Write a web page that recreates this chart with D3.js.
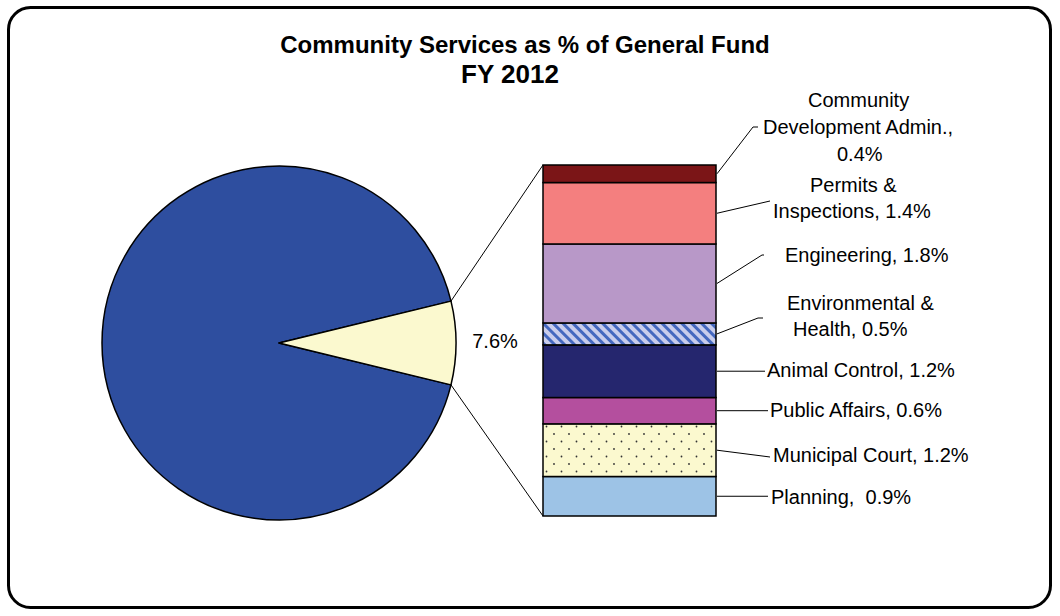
<!DOCTYPE html>
<html>
<head>
<meta charset="utf-8">
<script src="https://cdn.jsdelivr.net/npm/d3@7"></script>
<style>
  html, body { margin: 0; padding: 0; background: #ffffff; }
  svg { display: block; }
  text { font-family: "Liberation Sans", Arial, sans-serif; fill: #000; }
</style>
</head>
<body>
<svg id="chart" width="1060" height="616"></svg>
<script>
// ---- data ----
const titleLines = ["Community Services as % of General Fund", "FY 2012"];

const pieCategories = ["Other General Fund", "Community Services"];
const pieValues = [92.4, 7.6];

// stacked breakdown of the Community Services share, bottom to top
const categories = [
  "Planning", "Municipal Court", "Public Affairs", "Animal Control",
  "Environmental & Health", "Engineering", "Permits & Inspections",
  "Community Development Admin."
];
const values = [0.9, 1.2, 0.6, 1.2, 0.5, 1.8, 1.4, 0.4];

// label text per segment; "{v}" is replaced by the formatted value
const labelLines = [
  ["Planning,  {v}"],
  ["Municipal Court, {v}"],
  ["Public Affairs, {v}"],
  ["Animal Control, {v}"],
  ["Environmental &", "Health, {v}"],
  ["Engineering, {v}"],
  ["Permits &", "Inspections, {v}"],
  ["Community", "Development Admin.,", "{v}"]
];

// ---- drawing ----
const svg = d3.select("#chart");
const fmt = v => v.toFixed(1) + "%";

const defs = svg.append("defs");

// diagonal hatch for Environmental & Health
const hatch = defs.append("pattern")
  .attr("id", "hatch")
  .attr("patternUnits", "userSpaceOnUse")
  .attr("width", 7).attr("height", 7)
  .attr("patternTransform", "rotate(-45)");
hatch.append("rect").attr("width", 7).attr("height", 7).attr("fill", "#c9cdec");
hatch.append("rect").attr("width", 3).attr("height", 7).attr("fill", "#4468bf");

// dotted fill for Municipal Court
const dots = defs.append("pattern")
  .attr("id", "dots")
  .attr("patternUnits", "userSpaceOnUse")
  .attr("x", 543).attr("y", 423)
  .attr("width", 15).attr("height", 15);
dots.append("rect").attr("width", 15).attr("height", 15).attr("fill", "#fbf9cf");
dots.append("circle").attr("cx", 3.5).attr("cy", 3.5).attr("r", 0.9).attr("fill", "#333");
dots.append("circle").attr("cx", 11).attr("cy", 11).attr("r", 0.9).attr("fill", "#333");

const segmentFills = [
  "#9dc3e6", "url(#dots)", "#b44f9e", "#25266e",
  "url(#hatch)", "#b898c8", "#f47f7f", "#7b1517"
];
const pieFills = ["#2e4e9f", "#fbf9cf"];

// outer rounded frame
svg.append("rect")
  .attr("x", 8.5).attr("y", 7.5)
  .attr("width", 1042).attr("height", 600)
  .attr("rx", 22).attr("ry", 22)
  .attr("fill", "#fff")
  .attr("stroke", "#000")
  .attr("stroke-width", 3);

// title
const titleStyle = [
  { x: 525, y: 53, size: 24 },
  { x: 510, y: 83, size: 26 }
];
svg.append("g").selectAll("text")
  .data(titleLines)
  .join("text")
  .attr("x", (d, i) => titleStyle[i].x)
  .attr("y", (d, i) => titleStyle[i].y)
  .attr("text-anchor", "middle")
  .attr("font-size", (d, i) => titleStyle[i].size)
  .attr("font-weight", "bold")
  .text(d => d);

// ---- pie ----
const cx = 279, cy = 343, r = 177;
const smallShare = pieValues[1] / d3.sum(pieValues);
// the large slice starts just below 3 o'clock so the small one sits centred on it
const start = Math.PI / 2 + smallShare * Math.PI;
const pie = d3.pie().sort(null).startAngle(start).endAngle(start + 2 * Math.PI);
const arcs = pie(pieValues);
const arc = d3.arc().innerRadius(0).outerRadius(r);

const pieG = svg.append("g").attr("transform", `translate(${cx},${cy})`);
pieG.selectAll("path")
  .data(arcs)
  .join("path")
  .attr("d", arc)
  .attr("fill", (d, i) => pieFills[i])
  .attr("stroke", "#000")
  .attr("stroke-width", 1.5)
  .attr("stroke-linejoin", "round");

// percentage label for the exploded slice
const sliceArc = arcs[1];
svg.append("text")
  .attr("x", 495).attr("y", 348)
  .attr("text-anchor", "middle")
  .attr("font-size", 20)
  .text(fmt(pieValues[1]));

// ---- stacked bar ----
const barX0 = 543, barX1 = 716;
const y = d3.scaleLinear().domain([0, d3.sum(values)]).range([516, 165]);
const cum = d3.cumsum(values);
const segs = values.map((v, i) => ({ v, i, lo: cum[i] - v, hi: cum[i] }));

// connector lines from the slice edges to the bar corners
const edgePt = a => [cx + r * Math.sin(a), cy - r * Math.cos(a)];
const pTop = edgePt(sliceArc.startAngle);
const pBot = edgePt(sliceArc.endAngle);
svg.append("line")
  .attr("x1", pTop[0]).attr("y1", pTop[1])
  .attr("x2", barX0).attr("y2", y(d3.sum(values)))
  .attr("stroke", "#000").attr("stroke-width", 1);
svg.append("line")
  .attr("x1", pBot[0]).attr("y1", pBot[1])
  .attr("x2", barX0).attr("y2", y(0))
  .attr("stroke", "#000").attr("stroke-width", 1);

svg.append("g").selectAll("rect")
  .data(segs)
  .join("rect")
  .attr("x", barX0)
  .attr("y", d => y(d.hi))
  .attr("width", barX1 - barX0)
  .attr("height", d => y(d.lo) - y(d.hi))
  .attr("fill", d => segmentFills[d.i])
  .attr("stroke", "#000")
  .attr("stroke-width", 1.5);

// ---- segment labels with leader lines ----
// per segment: leader bend points after the bar edge, and text line anchors
const labelLayout = [
  { path: [[768, null]],             lines: [[771, 504]] },
  { path: [[770, 457]],              lines: [[773, 462]] },
  { path: [[768, null]],             lines: [[770, 417]] },
  { path: [[765, null]],             lines: [[767, 377]] },
  { path: [[758, 318], [763, 318]],  lines: [[787, 310], [793, 336]] },
  { path: [[762, 255], [764, 255]],  lines: [[785, 262]] },
  { path: [[770, 201]],              lines: [[810, 192], [773, 218]] },
  { path: [[753, 127], [758, 127]],  lines: [[808, 107], [763, 134], [837, 161]] }
];

const labelG = svg.append("g");
segs.forEach(s => {
  const mid = y((s.lo + s.hi) / 2);
  const lay = labelLayout[s.i];
  const pts = [[barX1 + 1, mid]].concat(lay.path.map(p => [p[0], p[1] === null ? mid : p[1]]));
  labelG.append("path")
    .attr("d", d3.line()(pts))
    .attr("fill", "none")
    .attr("stroke", "#000")
    .attr("stroke-width", 1);
  labelLines[s.i].forEach((t, k) => {
    labelG.append("text")
      .attr("x", lay.lines[k][0])
      .attr("y", lay.lines[k][1])
      .attr("font-size", 20)
      .attr("xml:space", "preserve")
      .style("white-space", "pre")
      .text(t.replace("{v}", fmt(s.v)));
  });
});
</script>
</body>
</html>
